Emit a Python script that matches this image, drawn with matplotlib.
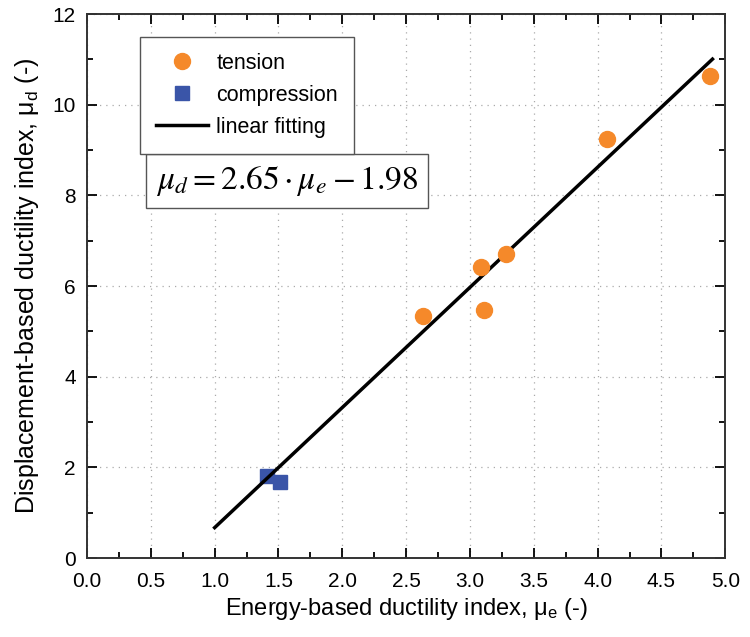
import matplotlib.pyplot as plt
import numpy as np
from matplotlib.ticker import MultipleLocator

plt.rcParams.update({"font.family": ["Liberation Sans", "DejaVu Sans"], "mathtext.fontset": "stix"})

tension_x = [2.63, 3.09, 3.11, 3.28, 4.07, 4.88]
tension_y = [5.34, 6.42, 5.46, 6.71, 9.24, 10.63]
comp_x = [1.41, 1.51]
comp_y = [1.82, 1.68]
slope, intercept = 2.65, -1.98
fit_range = [1.0, 4.9]

fig = plt.figure(figsize=(7.5, 6.37), dpi=100)
ax = fig.add_axes([0.116, 0.124, 0.851, 0.854])

fx = np.array(fit_range)
ax.plot(fx, slope * fx + intercept, color="black", lw=2.5, label="linear fitting", zorder=3)
ax.plot(tension_x, tension_y, "o", color="#F5892A", ms=11.5, label="tension", zorder=4)
ax.plot(comp_x, comp_y, "s", color="#3A55A8", ms=10.5, label="compression", zorder=2)

ax.set_xlim(0, 5)
ax.set_ylim(0, 12)
ax.xaxis.set_major_locator(MultipleLocator(0.5))
ax.xaxis.set_minor_locator(MultipleLocator(0.25))
ax.yaxis.set_major_locator(MultipleLocator(2))
ax.yaxis.set_minor_locator(MultipleLocator(1))
ax.xaxis.set_major_formatter(plt.FormatStrFormatter("%.1f"))
ax.tick_params(which="both", direction="in", top=True, right=True, labelsize=15, width=1.3)
ax.tick_params(which="major", length=7)
ax.tick_params(which="minor", length=4)
ax.tick_params(axis="x", which="major", pad=10)
ax.tick_params(axis="y", which="major", pad=8)
for s in ax.spines.values():
    s.set_linewidth(1.4)
    s.set_color("#333333")
ax.grid(True, which="major", ls=(0, (1, 4)), color="#aaaaaa", lw=0.9)

ax.set_xlabel(r"Energy-based ductility index, $\mathregular{\mu_e}$ (-)", fontsize=17, labelpad=4)
ax.set_ylabel(r"Displacement-based ductility index, $\mathregular{\mu_d}$ (-)", fontsize=18, labelpad=8)

h, l = ax.get_legend_handles_labels()
order = [1, 2, 0]
leg = ax.legend([h[i] for i in order], [l[i] for i in order], loc="upper left",
                bbox_to_anchor=(0.083, 0.958), borderaxespad=0, fontsize=15.5, fancybox=False,
                edgecolor="#555555", framealpha=1, borderpad=0.75, handlelength=2.4,
                handletextpad=0.4, labelspacing=0.5)
leg.get_frame().set_linewidth(1.0)

ax.text(0.313, 0.693, r"$\mu_d = 2.65\cdot\mu_e - 1.98$", transform=ax.transAxes,
        fontsize=24, ha="center", va="center",
        bbox=dict(boxstyle="square,pad=0.3", fc="white", ec="#555555", lw=1.0))

fig.savefig("out.png")
